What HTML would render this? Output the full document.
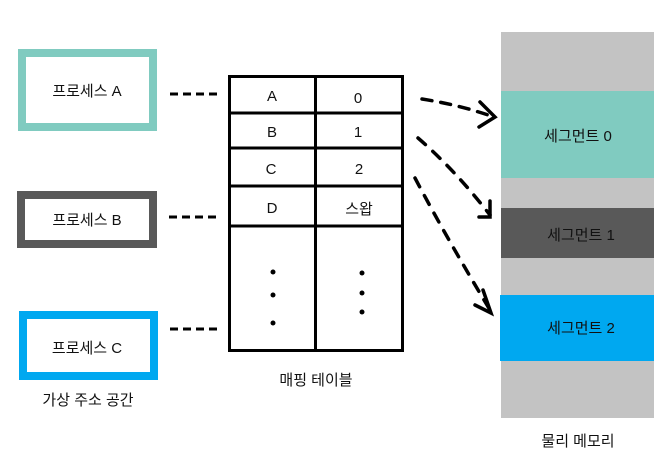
<!DOCTYPE html>
<html><head><meta charset="utf-8"><style>
html,body{margin:0;padding:0;background:#fff;}
svg{display:block;}
text{font-family:"Liberation Sans","Noto Sans CJK KR",sans-serif;font-size:15px;fill:#111;}
</style></head><body>
<svg width="664" height="466" viewBox="0 0 664 466" xmlns="http://www.w3.org/2000/svg">
<!-- process boxes -->
<rect x="22" y="53" width="131" height="74" fill="#fff" stroke="#80cbc0" stroke-width="8"/>
<text x="87" y="96" text-anchor="middle">프로세스 A</text>
<rect x="21" y="195" width="132" height="49" fill="#fff" stroke="#595959" stroke-width="8"/>
<text x="87" y="225" text-anchor="middle">프로세스 B</text>
<rect x="23" y="315" width="131" height="61" fill="#fff" stroke="#00a8f0" stroke-width="8"/>
<text x="87" y="353" text-anchor="middle">프로세스 C</text>
<text x="88" y="405" text-anchor="middle">가상 주소 공간</text>
<!-- dashed connectors -->
<g stroke="#000" stroke-width="3" stroke-dasharray="8,5">
<line x1="170" y1="94" x2="220" y2="94"/>
<line x1="169" y1="217" x2="219" y2="217"/>
<line x1="170" y1="329" x2="220" y2="329"/>
</g>
<!-- table -->
<g stroke="#000" stroke-width="3" fill="none">
<rect x="229.5" y="76.5" width="173" height="274"/>
<line x1="315.5" y1="76" x2="315.5" y2="352"/>
<line x1="229" y1="113" x2="403" y2="113"/>
<line x1="229" y1="148" x2="403" y2="148"/>
<line x1="229" y1="186" x2="403" y2="186"/>
<line x1="229" y1="226" x2="403" y2="226"/>
</g>
<text x="272" y="101" text-anchor="middle">A</text>
<text x="358" y="103" text-anchor="middle">0</text>
<text x="272" y="137" text-anchor="middle">B</text>
<text x="358" y="137" text-anchor="middle">1</text>
<text x="271" y="174" text-anchor="middle">C</text>
<text x="359" y="174" text-anchor="middle">2</text>
<text x="272" y="213" text-anchor="middle">D</text>
<text x="359" y="214" text-anchor="middle">스왑</text>
<g fill="#000">
<circle cx="273" cy="272" r="2.5"/><circle cx="273" cy="295" r="2.5"/><circle cx="273" cy="323" r="2.5"/>
<circle cx="362" cy="273" r="2.5"/><circle cx="362" cy="293" r="2.5"/><circle cx="362" cy="312" r="2.5"/>
</g>
<text x="316" y="385" text-anchor="middle">매핑 테이블</text>
<!-- memory -->
<rect x="501" y="32" width="153" height="386" fill="#c3c3c3"/>
<rect x="501" y="91" width="153" height="87" fill="#80cbc0"/>
<rect x="501" y="208" width="153" height="50" fill="#595959"/>
<rect x="500" y="295" width="154" height="66" fill="#00a8f0"/>
<text x="578" y="141" text-anchor="middle">세그먼트 0</text>
<text x="581" y="240" text-anchor="middle">세그먼트 1</text>
<text x="581" y="333" text-anchor="middle">세그먼트 2</text>
<text x="578" y="446" text-anchor="middle">물리 메모리</text>
<!-- arrows -->
<g stroke="#000" stroke-width="3.5" fill="none" stroke-linecap="round">
<path d="M422 99 Q460 105 494 117" stroke-dasharray="10,9"/>
<path d="M480 102 L495 117 L479 127"/>
<path d="M418 138 Q455 170 490 215" stroke-dasharray="10,10"/>
<path d="M490 201 L490 217 L479 217"/>
<path d="M415 178 Q445 235 490 310" stroke-dasharray="10,10"/>
<path d="M483 290 L491 313 L475 305"/>
</g>
</svg>
</body></html>
